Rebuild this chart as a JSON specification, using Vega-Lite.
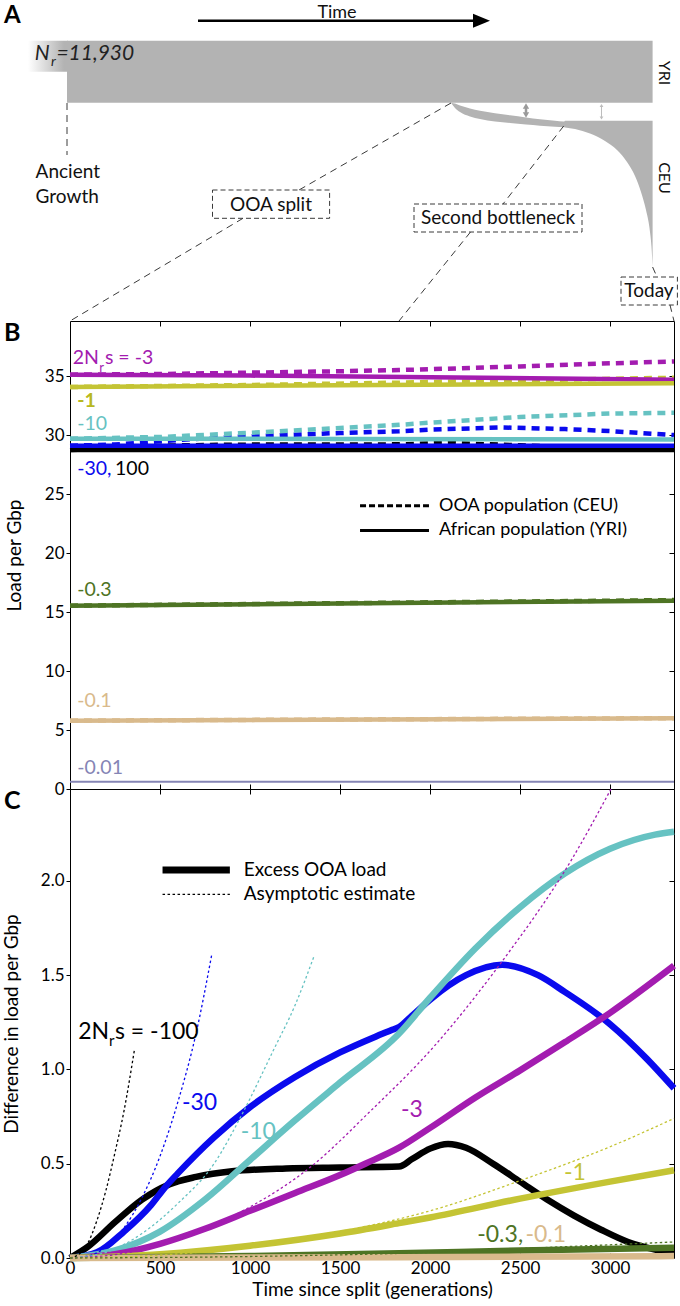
{
"$schema": "https://vega.github.io/schema/vega-lite/v6.json",
"padding": 0,
"background": "#ffffff",
"bounds": "flush",
"spacing": 0,
"config": {
  "font": "Lato",
  "view": {"stroke": null},
  "axis": {"labelFont": "Lato", "titleFont": "Lato", "labelColor": "#000", "titleColor": "#000", "tickColor": "#000", "domainColor": "#000", "grid": false, "titleFontWeight": "normal", "labelFontSize": 17, "titleFontSize": 19}
},
"datasets": {
  "b_yri": [
    {"k":"-100","g":0,"v":28.75},{"k":"-100","g":3355,"v":28.75},
    {"k":"-30","g":0,"v":29.12},{"k":"-30","g":3355,"v":29.12},
    {"k":"-10","g":0,"v":29.72},{"k":"-10","g":1500,"v":29.7},{"k":"-10","g":3355,"v":29.65},
    {"k":"-3","g":0,"v":35.15},{"k":"-3","g":1000,"v":35.07},{"k":"-3","g":2000,"v":34.92},{"k":"-3","g":3355,"v":34.72},
    {"k":"-1","g":0,"v":34.1},{"k":"-1","g":3355,"v":34.42},
    {"k":"-0.3","g":0,"v":15.55},{"k":"-0.3","g":3355,"v":15.97},
    {"k":"-0.1","g":0,"v":5.8},{"k":"-0.1","g":3355,"v":6.0},
    {"k":"-0.01","g":0,"v":0.62},{"k":"-0.01","g":3355,"v":0.62}
  ],
  "b_ceu": [
    {"k":"-100","g":0,"v":28.75},{"k":"-100","g":250,"v":28.94},{"k":"-100","g":550,"v":29.14},{"k":"-100","g":900,"v":29.21},{"k":"-100","g":1500,"v":29.23},{"k":"-100","g":1828,"v":29.235},{"k":"-100","g":2100,"v":29.355},{"k":"-100","g":2500,"v":29.15},{"k":"-100","g":3000,"v":28.9},{"k":"-100","g":3355,"v":28.775},
    {"k":"-30","g":0,"v":29.12},{"k":"-30","g":250,"v":29.22},{"k":"-30","g":500,"v":29.5},{"k":"-30","g":750,"v":29.74},{"k":"-30","g":1000,"v":29.92},{"k":"-30","g":1500,"v":30.2},{"k":"-30","g":1828,"v":30.345},{"k":"-30","g":2000,"v":30.49},{"k":"-30","g":2400,"v":30.67},{"k":"-30","g":2750,"v":30.53},{"k":"-30","g":3000,"v":30.36},{"k":"-30","g":3355,"v":30.02},
    {"k":"-10","g":0,"v":29.72},{"k":"-10","g":500,"v":29.86},{"k":"-10","g":1000,"v":30.22},{"k":"-10","g":1500,"v":30.62},{"k":"-10","g":1828,"v":30.89},{"k":"-10","g":2000,"v":31.08},{"k":"-10","g":2500,"v":31.56},{"k":"-10","g":3000,"v":31.85},{"k":"-10","g":3355,"v":31.91},
    {"k":"-3","g":0,"v":35.15},{"k":"-3","g":500,"v":35.2},{"k":"-3","g":1000,"v":35.32},{"k":"-3","g":1500,"v":35.44},{"k":"-3","g":1828,"v":35.54},{"k":"-3","g":2000,"v":35.61},{"k":"-3","g":2500,"v":35.85},{"k":"-3","g":3000,"v":36.11},{"k":"-3","g":3355,"v":36.27},
    {"k":"-1","g":0,"v":34.1},{"k":"-1","g":1000,"v":34.27},{"k":"-1","g":1828,"v":34.47},{"k":"-1","g":2500,"v":34.67},{"k":"-1","g":3355,"v":34.885},
    {"k":"-0.3","g":0,"v":15.55},{"k":"-0.3","g":1828,"v":15.81},{"k":"-0.3","g":3355,"v":16.025},
    {"k":"-0.1","g":0,"v":5.8},{"k":"-0.1","g":3355,"v":6.01},
    {"k":"-0.01","g":0,"v":0.62},{"k":"-0.01","g":3355,"v":0.62}
  ],
  "c_ex": [
    {"k":"-100","g":0,"v":0},{"k":"-100","g":100,"v":0.06},{"k":"-100","g":250,"v":0.19},{"k":"-100","g":400,"v":0.31},{"k":"-100","g":550,"v":0.39},{"k":"-100","g":700,"v":0.43},{"k":"-100","g":900,"v":0.46},{"k":"-100","g":1200,"v":0.475},{"k":"-100","g":1500,"v":0.48},{"k":"-100","g":1828,"v":0.485},{"k":"-100","g":1900,"v":0.525},{"k":"-100","g":2000,"v":0.58},{"k":"-100","g":2100,"v":0.605},{"k":"-100","g":2200,"v":0.585},{"k":"-100","g":2350,"v":0.5},{"k":"-100","g":2500,"v":0.405},{"k":"-100","g":2650,"v":0.31},{"k":"-100","g":2800,"v":0.225},{"k":"-100","g":2950,"v":0.15},{"k":"-100","g":3100,"v":0.085},{"k":"-100","g":3250,"v":0.045},{"k":"-100","g":3355,"v":0.025},
    {"k":"-30","g":0,"v":0},{"k":"-30","g":150,"v":0.03},{"k":"-30","g":300,"v":0.14},{"k":"-30","g":450,"v":0.28},{"k":"-30","g":528,"v":0.375},{"k":"-30","g":600,"v":0.45},{"k":"-30","g":800,"v":0.64},{"k":"-30","g":1000,"v":0.8},{"k":"-30","g":1250,"v":0.96},{"k":"-30","g":1500,"v":1.09},{"k":"-30","g":1700,"v":1.175},{"k":"-30","g":1790,"v":1.21},{"k":"-30","g":1828,"v":1.225},{"k":"-30","g":1900,"v":1.285},{"k":"-30","g":2000,"v":1.37},{"k":"-30","g":2200,"v":1.5},{"k":"-30","g":2400,"v":1.555},{"k":"-30","g":2600,"v":1.5},{"k":"-30","g":2750,"v":1.41},{"k":"-30","g":3000,"v":1.24},{"k":"-30","g":3200,"v":1.06},{"k":"-30","g":3355,"v":0.9},
    {"k":"-10","g":0,"v":0},{"k":"-10","g":250,"v":0.04},{"k":"-10","g":500,"v":0.14},{"k":"-10","g":750,"v":0.31},{"k":"-10","g":1000,"v":0.52},{"k":"-10","g":1250,"v":0.73},{"k":"-10","g":1500,"v":0.93},{"k":"-10","g":1828,"v":1.19},{"k":"-10","g":2000,"v":1.38},{"k":"-10","g":2250,"v":1.64},{"k":"-10","g":2500,"v":1.86},{"k":"-10","g":2750,"v":2.04},{"k":"-10","g":3000,"v":2.17},{"k":"-10","g":3250,"v":2.245},{"k":"-10","g":3355,"v":2.26},
    {"k":"-3","g":0,"v":0},{"k":"-3","g":250,"v":0.02},{"k":"-3","g":500,"v":0.075},{"k":"-3","g":750,"v":0.155},{"k":"-3","g":1000,"v":0.25},{"k":"-3","g":1250,"v":0.345},{"k":"-3","g":1500,"v":0.44},{"k":"-3","g":1640,"v":0.5},{"k":"-3","g":1828,"v":0.585},{"k":"-3","g":2000,"v":0.69},{"k":"-3","g":2250,"v":0.85},{"k":"-3","g":2500,"v":0.995},{"k":"-3","g":2750,"v":1.145},{"k":"-3","g":3000,"v":1.3},{"k":"-3","g":3355,"v":1.55},
    {"k":"-1","g":0,"v":0},{"k":"-1","g":500,"v":0.02},{"k":"-1","g":1000,"v":0.065},{"k":"-1","g":1500,"v":0.13},{"k":"-1","g":1828,"v":0.185},{"k":"-1","g":2000,"v":0.215},{"k":"-1","g":2500,"v":0.315},{"k":"-1","g":3000,"v":0.405},{"k":"-1","g":3355,"v":0.465},
    {"k":"-0.3","g":0,"v":0},{"k":"-0.3","g":1000,"v":0.01},{"k":"-0.3","g":1828,"v":0.025},{"k":"-0.3","g":2500,"v":0.04},{"k":"-0.3","g":3355,"v":0.055},
    {"k":"-0.1","g":0,"v":0},{"k":"-0.1","g":1828,"v":0.004},{"k":"-0.1","g":3355,"v":0.01}
  ],
  "c_as": [
    {"k":"-100","g":0,"v":0},{"k":"-100","g":50,"v":0.02},{"k":"-100","g":100,"v":0.08},{"k":"-100","g":150,"v":0.2},{"k":"-100","g":200,"v":0.36},{"k":"-100","g":250,"v":0.56},{"k":"-100","g":300,"v":0.78},{"k":"-100","g":358,"v":1.105},
    {"k":"-30","g":0,"v":0},{"k":"-30","g":100,"v":0.01},{"k":"-30","g":200,"v":0.06},{"k":"-30","g":300,"v":0.16},{"k":"-30","g":400,"v":0.32},{"k":"-30","g":500,"v":0.54},{"k":"-30","g":600,"v":0.83},{"k":"-30","g":700,"v":1.19},{"k":"-30","g":787,"v":1.607},
    {"k":"-10","g":0,"v":0},{"k":"-10","g":200,"v":0.03},{"k":"-10","g":400,"v":0.13},{"k":"-10","g":600,"v":0.29},{"k":"-10","g":800,"v":0.5},{"k":"-10","g":960,"v":0.77},{"k":"-10","g":1129,"v":1.1},{"k":"-10","g":1250,"v":1.34},{"k":"-10","g":1358,"v":1.607},
    {"k":"-3","g":0,"v":0},{"k":"-3","g":300,"v":0.025},{"k":"-3","g":600,"v":0.1},{"k":"-3","g":960,"v":0.25},{"k":"-3","g":1346,"v":0.49},{"k":"-3","g":1659,"v":0.77},{"k":"-3","g":2020,"v":1.12},{"k":"-3","g":2382,"v":1.55},{"k":"-3","g":2791,"v":2.12},{"k":"-3","g":3005,"v":2.487},
    {"k":"-1","g":0,"v":0},{"k":"-1","g":500,"v":0.015},{"k":"-1","g":1000,"v":0.06},{"k":"-1","g":1500,"v":0.14},{"k":"-1","g":2000,"v":0.25},{"k":"-1","g":2500,"v":0.41},{"k":"-1","g":3000,"v":0.59},{"k":"-1","g":3355,"v":0.74},
    {"k":"-0.3","g":0,"v":0},{"k":"-0.3","g":1000,"v":0.008},{"k":"-0.3","g":2000,"v":0.03},{"k":"-0.3","g":2500,"v":0.05},{"k":"-0.3","g":3000,"v":0.07},{"k":"-0.3","g":3355,"v":0.085}
  ],
  "a_ceu": [
    {"x":451,"y":102.7,"y2":102.7},{"x":455,"y":103.6,"y2":108},{"x":460,"y":105.5,"y2":112},{"x":470,"y":108.5,"y2":116.5},{"x":480,"y":110.8,"y2":119},{"x":495,"y":113.2,"y2":121.5},{"x":510,"y":115.3,"y2":123},{"x":526,"y":117.5,"y2":124.5},{"x":540,"y":119.3,"y2":125.7},{"x":555,"y":120.8,"y2":126.7},{"x":564,"y":121.5,"y2":127.3},{"x":565,"y":120.7,"y2":127.5},
    {"x":575,"y":120.7,"y2":129},{"x":590,"y":120.7,"y2":133.5},{"x":605,"y":120.7,"y2":141},{"x":617,"y":120.7,"y2":150},{"x":627,"y":120.7,"y2":162},{"x":635,"y":120.7,"y2":176},{"x":641,"y":120.7,"y2":192},{"x":646,"y":120.7,"y2":210},{"x":649.5,"y":120.7,"y2":228},{"x":651.5,"y":120.7,"y2":247},{"x":652.6,"y":120.7,"y2":266.7}
  ]
},
"vconcat": [
{
  "width": 604, "height": 321,
  "layer": [
    {"data": {"values": [{"x":0,"x2":680,"y":0,"y2":321}]}, "mark": {"type":"rect","fill":"#ffffff"},
     "encoding": {"x":{"field":"x","type":"quantitative","scale":{"domain":[70,674],"nice":false,"zero":false},"axis":null},"x2":{"field":"x2"},"y":{"field":"y","type":"quantitative","scale":{"domain":[0,321],"nice":false,"zero":false,"reverse":true},"axis":null},"y2":{"field":"y2"}}},
    {"data": {"values": [{"x":28,"x2":68,"y":40.7,"y2":71.7}]}, "mark": {"type":"rect","fill":{"gradient":"linear","x1":0,"y1":0,"x2":1,"y2":0,"stops":[{"offset":0,"color":"#ffffff"},{"offset":0.9,"color":"#b3b3b3"}]}},
     "encoding": {"x":{"field":"x","type":"quantitative","axis":null},"x2":{"field":"x2"},"y":{"field":"y","type":"quantitative","axis":null},"y2":{"field":"y2"}}},
    {"data": {"values": [{"x":67,"x2":652.6,"y":40.7,"y2":102.7}]}, "mark": {"type":"rect","fill":"#b3b3b3"},
     "encoding": {"x":{"field":"x","type":"quantitative","axis":null},"x2":{"field":"x2"},"y":{"field":"y","type":"quantitative","axis":null},"y2":{"field":"y2"}}},
    {"data": {"name": "a_ceu"}, "mark": {"type":"area","color":"#b3b3b3","interpolate":"monotone"},
     "encoding": {"x":{"field":"x","type":"quantitative","axis":null},"y":{"field":"y","type":"quantitative","axis":null},"y2":{"field":"y2"}}},
    {"data": {"values": [{"x":526,"y":106.5,"y2":114.5}]}, "mark": {"type":"rule","color":"#9a9a9a","strokeWidth":2.5},
     "encoding": {"x":{"field":"x","type":"quantitative","axis":null},"y":{"field":"y","type":"quantitative","axis":null},"y2":{"field":"y2"}}},
    {"data": {"values": [{"x":601.5,"y":105,"y2":118.5}]}, "mark": {"type":"rule","color":"#bdbdbd","strokeWidth":1},
     "encoding": {"x":{"field":"x","type":"quantitative","axis":null},"y":{"field":"y","type":"quantitative","axis":null},"y2":{"field":"y2"}}},
    {"data": {"values": [{"x":526,"y":106,"d":"up"},{"x":526,"y":115,"d":"down"}]}, "mark": {"type":"point","filled":true,"color":"#9a9a9a","size":40,"opacity":1},
     "encoding": {"x":{"field":"x","type":"quantitative","axis":null},"y":{"field":"y","type":"quantitative","axis":null},"shape":{"field":"d","type":"nominal","scale":{"domain":["up","down"],"range":["triangle-up","triangle-down"]},"legend":null}}},
    {"data": {"values": [{"x":601.5,"y":105.5,"d":"up"},{"x":601.5,"y":118,"d":"down"}]}, "mark": {"type":"point","filled":true,"color":"#bdbdbd","size":14,"opacity":1},
     "encoding": {"x":{"field":"x","type":"quantitative","axis":null},"y":{"field":"y","type":"quantitative","axis":null},"shape":{"field":"d","type":"nominal","scale":{"domain":["up","down"],"range":["triangle-up","triangle-down"]},"legend":null}}},
    {"data": {"values": [{"x":198,"x2":478,"y":20.7}]}, "mark": {"type":"rule","color":"#000000","strokeWidth":2.5},
     "encoding": {"x":{"field":"x","type":"quantitative","axis":null},"x2":{"field":"x2"},"y":{"field":"y","type":"quantitative","axis":null}}},
    {"data": {"values": [{"x":481.5,"y":20.7}]}, "mark": {"type":"point","filled":true,"color":"#000000","shape":"M-1,-0.82L1,0L-1,0.82Z","size":289,"opacity":1},
     "encoding": {"x":{"field":"x","type":"quantitative","axis":null},"y":{"field":"y","type":"quantitative","axis":null}}},
    {"data": {"values": [
       {"x":67,"y":103,"x2":67,"y2":155},
       {"x":451,"y":103,"x2":299,"y2":190},
       {"x":243,"y":218.3,"x2":70,"y2":321},
       {"x":563.7,"y":126,"x2":503,"y2":204},
       {"x":470.5,"y":232,"x2":399,"y2":321},
       {"x":652.6,"y":267,"x2":657,"y2":277},
       {"x":670,"y":305,"x2":674,"y2":321}
     ]}, "mark": {"type":"rule","color":"#3a3a3a","strokeWidth":1,"strokeDash":[7,5]},
     "encoding": {"x":{"field":"x","type":"quantitative","axis":null},"x2":{"field":"x2"},"y":{"field":"y","type":"quantitative","axis":null},"y2":{"field":"y2"}}},
    {"data": {"values": [
       {"x":212.5,"x2":329.6,"y":190,"y2":218.3},
       {"x":414,"x2":582,"y":204,"y2":232},
       {"x":621,"x2":677.4,"y":277,"y2":305}
     ]}, "mark": {"type":"rect","fillOpacity":0,"stroke":"#3a3a3a","strokeWidth":1,"strokeDash":[5,3]},
     "encoding": {"x":{"field":"x","type":"quantitative","axis":null},"x2":{"field":"x2"},"y":{"field":"y","type":"quantitative","axis":null},"y2":{"field":"y2"}}},
    {"data": {"values": [{"x":337,"y":12.5,"t":"Time"}]}, "mark": {"type":"text","align":"center","baseline":"middle","fontSize":18,"color":"#111111"},
     "encoding": {"x":{"field":"x","type":"quantitative","axis":null},"y":{"field":"y","type":"quantitative","axis":null},"text":{"field":"t"}}},
    {"data": {"values": [
       {"x":271,"y":205,"t":"OOA split"},
       {"x":498,"y":218,"t":"Second bottleneck"},
       {"x":649,"y":291,"t":"Today"}
     ]}, "mark": {"type":"text","align":"center","baseline":"middle","fontSize":19,"color":"#111111"},
     "encoding": {"x":{"field":"x","type":"quantitative","axis":null},"y":{"field":"y","type":"quantitative","axis":null},"text":{"field":"t"}}},
    {"data": {"values": [
       {"x":35.6,"y":171.7,"t":"Ancient"},
       {"x":35.6,"y":196.7,"t":"Growth"}
     ]}, "mark": {"type":"text","align":"left","baseline":"middle","fontSize":19,"color":"#111111"},
     "encoding": {"x":{"field":"x","type":"quantitative","axis":null},"y":{"field":"y","type":"quantitative","axis":null},"text":{"field":"t"}}},
    {"data": {"values": [
       {"x":664,"y":73,"t":"YRI"},
       {"x":664,"y":178,"t":"CEU"}
     ]}, "mark": {"type":"text","align":"center","baseline":"middle","fontSize":16,"angle":90,"color":"#111111"},
     "encoding": {"x":{"field":"x","type":"quantitative","axis":null},"y":{"field":"y","type":"quantitative","axis":null},"text":{"field":"t"}}},
    {"data": {"values": [{"x":4,"y":16,"t":"A"}]}, "mark": {"type":"text","align":"left","baseline":"middle","fontSize":24,"fontWeight":"bold","color":"#000000"},
     "encoding": {"x":{"field":"x","type":"quantitative","axis":null},"y":{"field":"y","type":"quantitative","axis":null},"text":{"field":"t"}}},
    {"data": {"values": [{"x":34.7,"y":60,"t":"N"},{"x":56.4,"y":60,"t":"=11,930"}]}, "mark": {"type":"text","align":"left","baseline":"alphabetic","fontSize":21,"fontStyle":"italic","color":"#222222"},
     "encoding": {"x":{"field":"x","type":"quantitative","axis":null},"y":{"field":"y","type":"quantitative","axis":null},"text":{"field":"t"}}},
    {"data": {"values": [{"x":51,"y":66,"t":"r"}]}, "mark": {"type":"text","align":"left","baseline":"alphabetic","fontSize":14,"fontStyle":"italic","color":"#222222"},
     "encoding": {"x":{"field":"x","type":"quantitative","axis":null},"y":{"field":"y","type":"quantitative","axis":null},"text":{"field":"t"}}}
  ]
},
{
  "width": 604, "height": 468,
  "view": {"stroke": "#000000", "strokeWidth": 1},
  "resolve": {"axis": {"x": "independent", "y": "independent"}},
  "layer": [
    {"data": {"name": "b_ceu"}, "transform": [{"filter": "datum.k != '-0.01'"}], "mark": {"type":"line","strokeWidth":4.5,"strokeDash":[8,6]},
     "encoding": {
       "x":{"field":"g","type":"quantitative","scale":{"domain":[0,3355],"nice":false,"zero":false},"axis":{"orient":"bottom","labels":false,"tickSize":-5,"values":[500,1000,1500,2000,2500,3000],"title":null,"domain":false}},
       "y":{"field":"v","type":"quantitative","scale":{"domain":[0,39.7],"nice":false,"zero":false},"axis":{"orient":"left","values":[0,5,10,15,20,25,30,35],"title":"Load per Gbp","tickSize":4,"labelPadding":2,"titlePadding":20,"domain":false}},
       "color":{"field":"k","type":"nominal","scale":{"domain":["-100","-30","-10","-3","-1","-0.3","-0.1","-0.01"],"range":["#000000","#0a0aee","#66c2c2","#a31cb0","#c4c434","#4e7424","#d9ba8c","#8585b5"]},"legend":null}}},
    {"data": {"name": "b_yri"}, "transform": [{"filter": "datum.k != '-0.01'"}], "mark": {"type":"line","strokeWidth":4.5},
     "encoding": {
       "x":{"field":"g","type":"quantitative","scale":{"domain":[0,3355],"nice":false,"zero":false},"axis":null},
       "y":{"field":"v","type":"quantitative","scale":{"domain":[0,39.7],"nice":false,"zero":false},"axis":null},
       "color":{"field":"k","type":"nominal","scale":{"domain":["-100","-30","-10","-3","-1","-0.3","-0.1","-0.01"],"range":["#000000","#0a0aee","#66c2c2","#a31cb0","#c4c434","#4e7424","#d9ba8c","#8585b5"]},"legend":null}}},
    {"data": {"name": "b_yri"}, "transform": [{"filter": "datum.k == '-0.01'"}], "mark": {"type":"line","strokeWidth":2,"color":"#8585b5"},
     "encoding": {
       "x":{"field":"g","type":"quantitative","axis":null},
       "y":{"field":"v","type":"quantitative","axis":null}}},
    {"data": {"values": [{"g":1611,"g2":1994,"v":24.03}]}, "mark": {"type":"rule","color":"#000000","strokeWidth":3,"strokeDash":[6,3]},
     "encoding": {"x":{"field":"g","type":"quantitative","axis":null},"x2":{"field":"g2"},"y":{"field":"v","type":"quantitative","axis":null}}},
    {"data": {"values": [{"g":1611,"g2":1994,"v":21.93}]}, "mark": {"type":"rule","color":"#000000","strokeWidth":3},
     "encoding": {"x":{"field":"g","type":"quantitative","axis":null},"x2":{"field":"g2"},"y":{"field":"v","type":"quantitative","axis":null}}},
    {"data": {"values": [{"g":2050,"v":24.03,"t":"OOA population (CEU)"},{"g":2050,"v":21.93,"t":"African population (YRI)"}]}, "mark": {"type":"text","align":"left","baseline":"middle","fontSize":18,"color":"#000000"},
     "encoding": {"x":{"field":"g","type":"quantitative","axis":null},"y":{"field":"v","type":"quantitative","axis":null},"text":{"field":"t"}}},
    {"data": {"values": [
       {"k":"-3","g":15,"v":36.6,"t":"2N"},
       {"k":"-3","g":194,"v":36.6,"t":"s = -3"},
       {"k":"-10","g":40,"v":30.95,"t":"-10"},
       {"k":"-30","g":40,"v":27.14,"t":"-30,"},
       {"k":"-100","g":250,"v":27.14,"t":"100"},
       {"k":"-0.3","g":40,"v":16.9,"t":"-0.3"},
       {"k":"-0.1","g":40,"v":7.43,"t":"-0.1"},
       {"k":"-0.01","g":40,"v":1.78,"t":"-0.01"}
     ]}, "mark": {"type":"text","align":"left","baseline":"middle","fontSize":19.5},
     "encoding": {
       "x":{"field":"g","type":"quantitative","axis":{"orient":"top","labels":false,"tickSize":-5,"values":[500,1000,1500,2000,2500,3000],"title":null,"domain":false}},
       "y":{"field":"v","type":"quantitative","axis":{"orient":"right","labels":false,"tickSize":-5,"values":[5,10,15,20,25,30,35],"title":null,"domain":false}},
       "text":{"field":"t"},
       "color":{"field":"k","type":"nominal","scale":{"domain":["-100","-30","-10","-3","-1","-0.3","-0.1","-0.01"],"range":["#000000","#0a0aee","#66c2c2","#a31cb0","#c4c434","#4e7424","#d9ba8c","#707080"]},"legend":null}}},
    {"data": {"values": [{"k":"-1","g":40,"v":32.9,"t":"-1"}]}, "mark": {"type":"text","align":"left","baseline":"middle","fontSize":19.5,"fontWeight":"bold","color":"#b8b820"},
     "encoding": {"x":{"field":"g","type":"quantitative","axis":null},"y":{"field":"v","type":"quantitative","axis":null},"text":{"field":"t"}}},
    {"data": {"values": [{"k":"-3","g":163,"v":35.75,"t":"r"}]}, "mark": {"type":"text","align":"left","baseline":"middle","fontSize":13,"color":"#a31cb0"},
     "encoding": {"x":{"field":"g","type":"quantitative","axis":null},"y":{"field":"v","type":"quantitative","axis":null},"text":{"field":"t"}}},
    {"data": {"values": [{"g":-366.7,"v":39.7,"t":"B"}]}, "mark": {"type":"text","align":"left","baseline":"top","fontSize":25,"fontWeight":"bold","color":"#000000"},
     "encoding": {"x":{"field":"g","type":"quantitative","axis":null},"y":{"field":"v","type":"quantitative","axis":null},"text":{"field":"t"}}}
  ]
},
{
  "width": 604, "height": 469,
  "view": {"stroke": "#000000", "strokeWidth": 1},
  "resolve": {"axis": {"x": "independent", "y": "independent"}},
  "layer": [
    {"data": {"name": "c_ex"}, "mark": {"type":"line","strokeWidth":6.5,"interpolate":"monotone"},
     "encoding": {
       "x":{"field":"g","type":"quantitative","scale":{"domain":[0,3355],"nice":false,"zero":false},"axis":{"orient":"bottom","values":[0,500,1000,1500,2000,2500,3000],"format":"d","title":"Time since split (generations)","tickSize":-5,"labelPadding":7,"titlePadding":4,"labelFlush":false,"domain":false}},
       "y":{"field":"v","type":"quantitative","scale":{"domain":[0,2.487],"nice":false,"zero":false},"axis":{"orient":"left","values":[0,0.5,1,1.5,2],"format":".1f","title":"Difference in load per Gbp","tickSize":4,"labelPadding":2,"titlePadding":19,"domain":false}},
       "color":{"field":"k","type":"nominal","scale":{"domain":["-100","-30","-10","-3","-1","-0.3","-0.1","-0.01"],"range":["#000000","#0a0aee","#66c2c2","#a31cb0","#c4c434","#4e7424","#d9ba8c","#8585b5"]},"legend":null}}},
    {"data": {"name": "c_as"}, "mark": {"type":"line","strokeWidth":1.3,"strokeDash":[2.5,2.5],"interpolate":"monotone"},
     "encoding": {
       "x":{"field":"g","type":"quantitative","scale":{"domain":[0,3355],"nice":false,"zero":false},"axis":null},
       "y":{"field":"v","type":"quantitative","scale":{"domain":[0,2.487],"nice":false,"zero":false},"axis":null},
       "color":{"field":"k","type":"nominal","scale":{"domain":["-100","-30","-10","-3","-1","-0.3","-0.1","-0.01"],"range":["#000000","#0a0aee","#66c2c2","#a31cb0","#c4c434","#4e7424","#d9ba8c","#8585b5"]},"legend":null}}},
    {"data": {"values": [{"g":514,"g2":888,"v":2.057}]}, "mark": {"type":"rule","color":"#000000","strokeWidth":7},
     "encoding": {"x":{"field":"g","type":"quantitative","axis":null},"x2":{"field":"g2"},"y":{"field":"v","type":"quantitative","axis":null}}},
    {"data": {"values": [{"g":514,"g2":888,"v":1.928}]}, "mark": {"type":"rule","color":"#000000","strokeWidth":1.3,"strokeDash":[2.5,2.5]},
     "encoding": {"x":{"field":"g","type":"quantitative","axis":null},"x2":{"field":"g2"},"y":{"field":"v","type":"quantitative","axis":null}}},
    {"data": {"values": [{"g":965,"v":2.057,"t":"Excess OOA load"},{"g":965,"v":1.928,"t":"Asymptotic estimate"}]}, "mark": {"type":"text","align":"left","baseline":"middle","fontSize":19,"color":"#000000"},
     "encoding": {"x":{"field":"g","type":"quantitative","axis":null},"y":{"field":"v","type":"quantitative","axis":null},"text":{"field":"t"}}},
    {"data": {"values": [
       {"k":"-100","g":46,"v":1.2,"t":"2N"},
       {"k":"-100","g":250,"v":1.2,"t":"s = -100"},
       {"k":"-30","g":622,"v":0.82,"t":"-30"},
       {"k":"-10","g":948,"v":0.668,"t":"-10"},
       {"k":"-3","g":1839,"v":0.785,"t":"-3"},
       {"k":"-1","g":2744,"v":0.452,"t":"-1"},
       {"k":"-0.3","g":2262,"v":0.122,"t":"-0.3,"},
       {"k":"-0.1","g":2530,"v":0.122,"t":"-0.1"}
     ]}, "mark": {"type":"text","align":"left","baseline":"middle","fontSize":23},
     "encoding": {
       "x":{"field":"g","type":"quantitative","axis":{"orient":"top","labels":false,"tickSize":-5,"values":[500,1000,1500,2000,2500,3000],"title":null,"domain":false}},
       "y":{"field":"v","type":"quantitative","axis":{"orient":"right","labels":false,"tickSize":-5,"values":[0.5,1,1.5,2],"title":null,"domain":false}},
       "text":{"field":"t"},
       "color":{"field":"k","type":"nominal","scale":{"domain":["-100","-30","-10","-3","-1","-0.3","-0.1","-0.01"],"range":["#000000","#0a0aee","#66c2c2","#a31cb0","#c4c434","#4e7424","#d9ba8c","#8585b5"]},"legend":null}}},
    {"data": {"values": [{"g":217,"v":1.15,"t":"r"}]}, "mark": {"type":"text","align":"left","baseline":"middle","fontSize":15,"color":"#000000"},
     "encoding": {"x":{"field":"g","type":"quantitative","axis":null},"y":{"field":"v","type":"quantitative","axis":null},"text":{"field":"t"}}},
    {"data": {"values": [{"g":-366.7,"v":2.487,"t":"C"}]}, "mark": {"type":"text","align":"left","baseline":"top","fontSize":25,"fontWeight":"bold","color":"#000000"},
     "encoding": {"x":{"field":"g","type":"quantitative","axis":null},"y":{"field":"v","type":"quantitative","axis":null},"text":{"field":"t"}}}
  ]
}
]
}
